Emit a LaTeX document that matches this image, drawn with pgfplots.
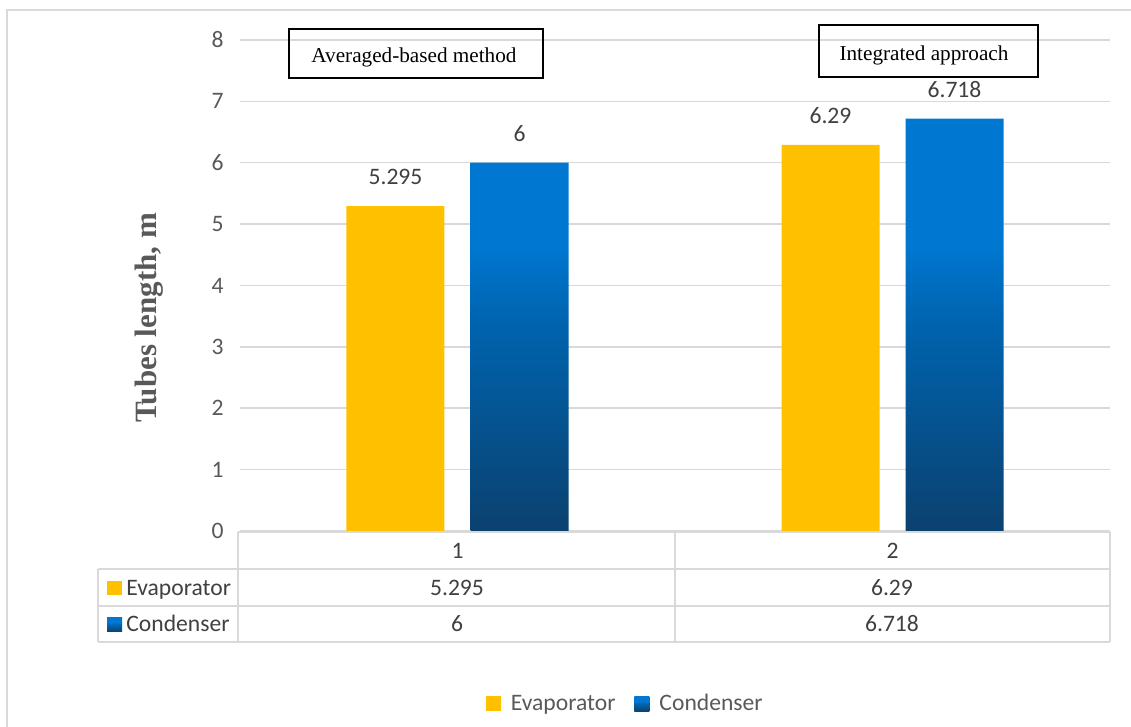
\documentclass[border=0pt]{standalone}
\usepackage{pgfplots}
\pgfplotsset{compat=1.18}
\usepackage{fontspec}
\setmainfont{Carlito}
\newfontfamily\timesf{Liberation Serif}

\definecolor{evap}{HTML}{FFC000}
\definecolor{clight}{HTML}{0078D2}
\definecolor{cmid}{HTML}{0063AE}
\definecolor{cdark}{HTML}{0B416F}
\definecolor{gridc}{HTML}{D9D9D9}
\definecolor{tickc}{HTML}{595959}
\definecolor{labc}{HTML}{404040}

% Condenser bars: light blue on top, darkening towards the base
\pgfdeclareverticalshading{condgrad}{100bp}{color(0bp)=(cdark); color(25bp)=(cdark); color(50bp)=(cmid); color(60bp)=(clight); color(75bp)=(clight); color(100bp)=(clight)}

% square legend keys
\pgfplotsset{sqlegend/.style={legend image code/.code={\path[##1] (0pt,-3.75pt) rectangle (7.5pt,3.75pt);}}}

\newcommand{\fs}{\fontsize{11.8}{14}\selectfont}

\begin{document}
\begin{tikzpicture}[x=0.5pt,y=0.5pt]
\useasboundingbox (0,0) rectangle (1131,727);
% chart frame
\draw[gridc, line width=0.75pt] (7,0) -- (7,717) -- (1131,717);

\begin{axis}[
  at={(120pt,98pt)}, anchor=south west,
  scale only axis, width=435pt, height=245.5pt,
  xmin=0.5, xmax=2.5, ymin=0, ymax=8,
  ytick={0,1,...,8}, xtick={1,2}, xticklabels={1,2},
  ymajorgrids, grid style={gridc, line width=0.75pt},
  axis line style={draw=none},
  major tick length=0pt,
  /pgf/number format/assume math mode=true,
  tick label style={font=\fs, text=tickc},
  yticklabel style={anchor=east, inner sep=0pt, xshift=-8pt},
  xticklabel style={anchor=base, inner sep=0pt, yshift=-13.75pt, text=labc},
  ylabel={Tubes length, m},
  every axis y label/.style={at={(axis description cs:-0.1046,0.4338)}, rotate=90, anchor=center,
    font=\timesf\bfseries\fontsize{15.5}{18}\selectfont, text=tickc},
  nodes near coords={\pgfmathprintnumber[precision=3]{\pgfplotspointmeta}},
  every node near coord/.append style={font=\fs, text=labc, anchor=base, inner sep=0pt, yshift=10.75pt},
  legend style={draw=none, fill=none, at={(0.444,-0.3523)}, anchor=center,
    font=\fs, text=tickc,
    /tikz/every odd column/.append style={column sep=3pt},
    /tikz/every even column/.append style={column sep=7.5pt}},
  legend columns=2,
]
\addplot[ybar, bar width=49pt, bar shift=-31pt, fill=evap, draw=none, sqlegend,
  every node near coord/.append style={xshift=-31pt}]
  coordinates {(1,5.295) (2,6.29)};
\addlegendentry{Evaporator}
\addplot[ybar, bar width=49pt, bar shift=31pt, draw=none, shade, shading=condgrad, sqlegend,
  every node near coord/.append style={xshift=31pt}]
  coordinates {(1,6) (2,6.718)};
\addlegendentry{Condenser}
\end{axis}

% data table under the plot
\begin{scope}[gridc, line width=0.75pt]
\draw (238,195) -- (1110,195);
\draw (98,158) -- (1110,158);
\draw (98,121) -- (1110,121);
\draw (98,85) -- (1110,85);
\draw (238,195) -- (238,85);
\draw (675,195) -- (675,85);
\draw (1110,195) -- (1110,85);
\draw (98,158) -- (98,85);
\end{scope}
\fill[evap] (107,132) rectangle (122,146);
\shade[shading=condgrad] (107,95) rectangle (122,109);
\begin{scope}[every node/.style={font=\fs, text=labc, inner sep=0pt}]
\node[anchor=base west] at (126,131.5) {Evaporator};
\node[anchor=base west] at (126,95.5) {Condenser};
\node[anchor=base] at (457,131.5) {5.295};
\node[anchor=base] at (892,131.5) {6.29};
\node[anchor=base] at (457,95.5) {6};
\node[anchor=base] at (892,95.5) {6.718};
\end{scope}

% method captions
\draw[black, line width=0.75pt] (289,649) rectangle (543,698);
\node[font=\timesf\fontsize{10.6}{12}\selectfont, anchor=base, inner sep=0pt] at (414,664) {Averaged-based method};
\draw[black, line width=0.75pt] (819,650) rectangle (1038,702);
\node[font=\timesf\fontsize{10.6}{12}\selectfont, anchor=base, inner sep=0pt] at (924,666) {Integrated approach};
\end{tikzpicture}
\end{document}
